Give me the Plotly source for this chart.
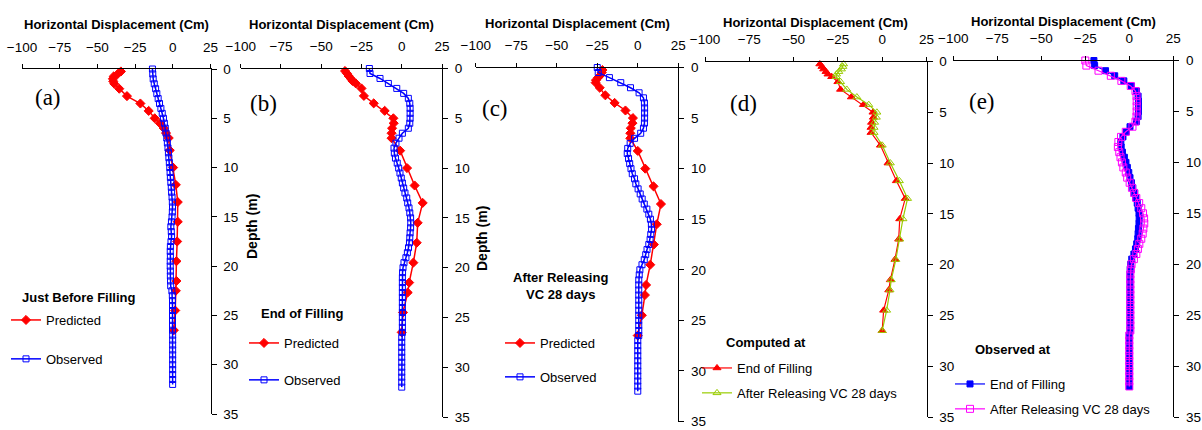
import plotly.graph_objects as go

# ---------------- data ----------------
X_TICKS = [-100, -75, -50, -25, 0, 25]
Y_TICKS = [0, 5, 10, 15, 20, 25, 30, 35]

PRED_DEPTH = [0.25, 0.5, 0.75, 1.0, 1.25, 1.5, 2.0, 2.75, 3.5, 4.25, 5.0, 5.5, 6.0,
              6.5, 7.0, 8.25, 10.0, 11.75, 13.5, 15.5, 17.5, 19.5, 21.5, 22.5, 24.5, 26.5]
PRED_BEFORE = [-34.4, -36.5, -39.2, -39.7, -39.5, -38.8, -35.5, -30.4, -21.5, -16.0, -12.0, -8.6, -6.0,
               -4.5, -2.7, -2.0, 0.2, 2.0, 3.3, 3.3, 2.9, 2.4, 2.4, 2.0, 1.6, 0.7]
PRED_END = [-35.2, -34.0, -33.0, -31.7, -30.6, -28.5, -25.0, -23.5, -17.4, -10.6, -5.2, -5.0, -6.0,
            -6.3, -6.3, -1.0, 3.3, 8.0, 13.0, 9.9, 9.3, 7.2, 4.6, 3.7, 0.8, 0.0]
PRED_REL = [-21.8, -22.2, -23.0, -24.5, -25.8, -26.0, -23.5, -20.0, -14.3, -7.6, -3.0, -3.3, -4.3,
            -4.6, -4.6, 0.0, 4.6, 9.7, 14.3, 11.7, 9.9, 7.7, 5.1, 4.4, 2.5, 0.0]

OBS_DEPTH = [0.0, 0.5, 1.0, 1.5, 2.0, 2.5, 3.0, 3.5, 4.0, 4.5,
             5.0, 5.5, 6.0, 6.5, 7.0, 7.5, 8.0, 8.5, 9.0, 9.5,
             10.0, 10.5, 11.0, 11.5, 12.0, 12.5, 13.0, 13.5, 14.0, 14.5,
             15.0, 15.5, 16.0, 16.5, 17.0, 17.5, 18.0, 18.5, 19.0, 19.5,
             20.0, 20.5, 21.0, 21.5, 22.0, 22.5, 23.0, 23.5, 24.0, 24.5,
             25.0, 25.5, 26.0, 26.5, 27.0, 27.5, 28.0, 28.5, 29.0, 29.5,
             30.0, 30.5, 31.0, 31.5, 32.0]
OBS_BEFORE = [-13.5, -13.3, -13.0, -12.3, -11.4, -10.6, -9.7, -8.8, -7.9, -7.0,
              -6.2, -5.6, -5.0, -4.5, -4.0, -3.6, -3.2, -2.9, -2.6, -2.3,
              -2.0, -1.8, -1.6, -1.3, -1.0, -0.8, -0.5, -0.3, -0.2, -0.3,
              -0.5, -0.9, -1.3, -1.0, -0.8, -1.2, -1.6, -1.7, -1.6, -1.7,
              -1.7, -1.6, -1.6, -1.5, -1.4, -0.6, -0.3, -0.2, -0.2, -0.2,
              -0.2, -0.2, -0.2, -0.2, -0.1, -0.1, -0.1, -0.1, -0.1, -0.1,
              -0.1, -0.1, -0.1, -0.1, -0.1]
OBS_END = [-20.1, -19.7, -13.5, -8.3, -3.1, 1.2, 4.1, 5.0, 5.2, 5.2,
           5.2, 5.0, 4.1, 0.4, -1.7, -3.6, -4.8, -4.6, -3.9, -2.8,
           -1.9, -1.1, -0.3, 0.4, 1.2, 2.0, 3.1, 3.7, 4.5, 5.0,
           5.5, 5.6, 5.5, 5.2, 5.0, 4.8, 4.2, 3.5, 2.6, 1.4,
           0.8, 0.5, 0.4, 0.4, 0.4, 0.4, 0.4, 0.4, 0.4, 0.4,
           0.4, 0.4, 0.4, 0.4, 0.0, 0.0, 0.0, 0.0, 0.0, 0.0,
           0.0, 0.0, 0.0, 0.0, 0.0]
OBS_REL = [-25.0, -24.4, -17.5, -10.5, -4.5, 0.8, 3.5, 4.1, 4.2, 4.2,
           4.2, 4.1, 3.5, 1.8, -2.0, -4.7, -6.2, -6.5, -5.7, -5.0,
           -4.2, -3.4, -2.0, -1.2, 0.2, 1.5, 2.7, 4.0, 5.6, 6.8,
           7.8, 8.4, 8.5, 8.0, 7.6, 6.8, 5.7, 4.9, 4.0, 2.6,
           1.3, 0.9, 0.6, 0.6, 0.6, 0.6, 0.6, 0.6, 0.6, 0.6,
           0.6, 0.6, 0.6, 0.6, 0.0, 0.0, 0.0, 0.0, 0.0, 0.0,
           0.0, 0.0, 0.0, 0.0, 0.0]

X_TITLE = "Horizontal Displacement (Cm)"
Y_TITLE = "Depth (m)"
PANEL_LABELS = ["(a)", "(b)", "(c)", "(d)", "(e)"]
LEGEND_TITLES = ["Just Before Filling", "End of Filling", "After Releasing<br>VC 28 days",
                 "Computed at", "Observed at"]

# ---------------- layout helpers ----------------
W, H = 1202, 430
SANS = "Liberation Sans, Arial, sans-serif"
SERIF = "Liberation Serif, Times New Roman, serif"
RED, BLUE, GREEN, MAGENTA = "#FF0000", "#0000FF", "#99CC00", "#FF00FF"


def fx(px):
    return px / W


def fy(py):
    return 1 - py / H


# plot-area boxes in page pixels: (left, right, top, bottom)
BOXES = [(22, 210.5, 69, 414), (240.7, 442, 68.5, 417), (475.7, 678.3, 67.5, 421.5),
         (705, 926.5, 61.5, 417), (953.3, 1173.3, 60.5, 417)]

fig = go.Figure()


def add(panel, x, y, name, color, symbol, size, legend, group, lw=1.5, mlw=1):
    sfx = "" if panel == 0 else str(panel + 1)
    fig.add_trace(go.Scatter(
        x=x, y=y, name=name, mode="lines+markers",
        xaxis="x" + sfx, yaxis="y" + sfx,
        line=dict(color=color, width=lw),
        marker=dict(color=color, symbol=symbol, size=size, line=dict(color=color, width=mlw)),
        legend=legend, legendgroup=group, cliponaxis=False,
    ))


add(0, PRED_BEFORE, PRED_DEPTH, "Predicted", RED, "diamond", 7, "legend", "a1")
add(0, OBS_BEFORE, OBS_DEPTH, "Observed", BLUE, "square-open", 6, "legend", "a2")
add(1, PRED_END, PRED_DEPTH, "Predicted", RED, "diamond", 7, "legend2", "b1")
add(1, OBS_END, OBS_DEPTH, "Observed", BLUE, "square-open", 6, "legend2", "b2")
add(2, PRED_REL, PRED_DEPTH, "Predicted", RED, "diamond", 7, "legend3", "c1")
add(2, OBS_REL, OBS_DEPTH, "Observed", BLUE, "square-open", 6, "legend3", "c2")
add(3, PRED_END, PRED_DEPTH, "End of Filling", RED, "triangle-up", 7, "legend4", "d1", lw=1.2)
add(3, PRED_REL, PRED_DEPTH, "After Releasing VC 28 days", GREEN, "triangle-up-open", 7, "legend4", "d2", lw=1.2)
add(4, OBS_END, OBS_DEPTH, "End of Filling", BLUE, "square", 6, "legend5", "e1", lw=1.2)
add(4, OBS_REL, OBS_DEPTH, "After Releasing VC 28 days", MAGENTA, "square-open", 7, "legend5", "e2", lw=1.2)

layout = dict(
    width=W, height=H, autosize=False,
    margin=dict(l=0, r=0, t=0, b=0, pad=0, autoexpand=False),
    paper_bgcolor="white", plot_bgcolor="white",
    font=dict(family=SANS, size=13, color="black"),
    showlegend=True,
)

annotations = []
for i, (l, r, t, b) in enumerate(BOXES):
    sfx = "" if i == 0 else str(i + 1)
    layout["xaxis" + sfx] = dict(
        domain=[fx(l), fx(r)], anchor="y" + sfx, side="top", automargin=False,
        range=[-100, 25], tickmode="array", tickvals=X_TICKS,
        ticks="outside", ticklen=4, tickcolor="black", tickwidth=1,
        showline=True, linecolor="black", linewidth=1, ticklabelstandoff=7,
        ticklabeloverflow="allow",
        showgrid=False, zeroline=False, fixedrange=True,
        tickfont=dict(family=SANS, size=13.5, color="black"),
    )
    layout["yaxis" + sfx] = dict(
        domain=[fy(b), fy(t)], anchor="x" + sfx, side="right", automargin=False,
        range=[35, 0], tickmode="array", tickvals=Y_TICKS,
        ticks="outside", ticklen=5, tickcolor="black", tickwidth=1,
        showline=True, linecolor="black", linewidth=1, ticklabelstandoff=4,
        ticklabeloverflow="allow",
        showgrid=False, zeroline=False, fixedrange=True,
        tickfont=dict(family=SANS, size=13.5, color="black"),
    )
    annotations.append(dict(
        text="<b>" + X_TITLE + "</b>", x=fx((l + r) / 2), y=fy(t - 44 if i < 3 else t - 39),
        xref="paper", yref="paper", showarrow=False, xanchor="center", yanchor="middle",
        font=dict(family=SANS, size=13, color="black"),
    ))

# panel labels
for lab, (px, py) in zip(PANEL_LABELS, [(48, 97), (263, 103), (495, 108), (743, 104), (982, 101)]):
    annotations.append(dict(text=lab, x=fx(px), y=fy(py), xref="paper", yref="paper",
                            showarrow=False, xanchor="center", yanchor="middle",
                            font=dict(family=SERIF, size=23, color="black")))

# depth titles (panels b and c)
for px, py in [(252, 227), (482, 239)]:
    annotations.append(dict(text="<b>" + Y_TITLE + "</b>", x=fx(px), y=fy(py), xref="paper", yref="paper",
                            showarrow=False, textangle=-90, xanchor="center", yanchor="middle",
                            font=dict(family=SANS, size=14, color="black")))

# legend titles
LT_POS = [(20, 297, "left"), (259, 313, "left"), (560, 286, "center"), (724, 342, "left"), (973, 349, "left")]
for txt, (px, py, anc) in zip(LEGEND_TITLES, LT_POS):
    annotations.append(dict(text="<b>" + txt + "</b>", x=fx(px), y=fy(py), xref="paper", yref="paper",
                            showarrow=False, xanchor=anc, yanchor="middle", align="center",
                            font=dict(family=SANS, size=13, color="black")))

layout["annotations"] = annotations

# legends: (left px, first-item-center px, group gap)
LEG = [("legend", 6, 320, 19), ("legend2", 244, 343, 17), ("legend3", 500, 343, 14),
       ("legend4", 697, 368, 5), ("legend5", 950, 384, 5)]
for key, lx, cy, gap in LEG:
    layout[key] = dict(
        x=fx(lx), y=fy(cy - 15), xref="paper", yref="paper", xanchor="left", yanchor="top",
        bgcolor="rgba(0,0,0,0)", borderwidth=0, traceorder="grouped", tracegroupgap=gap,
        font=dict(family=SANS, size=13, color="black"), itemclick=False, itemdoubleclick=False,
    )

fig.update_layout(**layout)
fig.write_html(
    "out.html",
    config={"displayModeBar": False, "staticPlot": True},
    post_script="document.body.style.margin='0';document.body.style.overflow='hidden';",
)
